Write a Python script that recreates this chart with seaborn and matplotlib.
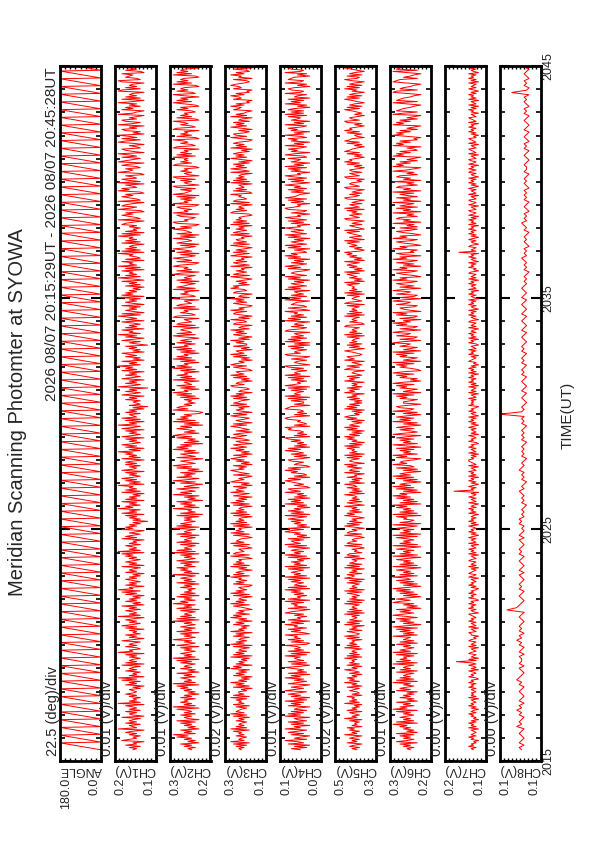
import numpy as np
import pandas as pd
import matplotlib
matplotlib.use("Agg")
import matplotlib.pyplot as plt
import seaborn as sns

sns.set_theme(style="white")
plt.rcParams['font.family'] = ['Liberation Sans', 'DejaVu Sans']

TITLE = "Meridian Scanning Photomter at SYOWA"
PERIOD = "2026 08/07 20:15:29UT - 2026 08/07 20:45:28UT"
TIME_TICKS = [0, 10, 20, 30]          # minutes after 20:15 UT
TIME_LABELS = ["2015", "2025", "2035", "2045"]

# scan angle turning points (seconds after 20:15:00)
ANGLE_LOW_S = [29, 49, 69, 89, 109, 129, 149, 169, 189, 209, 229, 249, 269, 289, 309,
               329, 349, 369, 389, 409, 429, 449, 469, 489, 509, 529, 549, 569, 589, 609,
               629, 649, 669, 689, 709, 729, 749, 769, 789, 809, 829, 849, 869, 889, 909,
               929, 949, 969, 989, 1009, 1029, 1049, 1069, 1089, 1109, 1129, 1149, 1169,
               1189, 1209, 1229, 1249, 1269, 1289, 1309, 1329, 1349, 1369, 1389, 1409,
               1429, 1449, 1469, 1489, 1509, 1529, 1549, 1569, 1589, 1609, 1629, 1649,
               1669, 1689, 1709, 1729, 1749, 1769, 1789, 1809]
ANGLE_HIGH_S = [47, 67, 87, 107, 127, 147, 167, 187, 207, 227, 247, 267, 287, 307, 327,
                347, 367, 387, 407, 427, 447, 467, 487, 507, 527, 547, 567, 587, 607, 627,
                647, 667, 687, 707, 727, 747, 767, 787, 807, 827, 847, 867, 887, 907, 927,
                947, 967, 987, 1007, 1027, 1047, 1067, 1087, 1107, 1127, 1147, 1167, 1187,
                1207, 1227, 1247, 1267, 1287, 1307, 1327, 1347, 1367, 1387, 1407, 1427,
                1447, 1467, 1487, 1507, 1527, 1547, 1567, 1587, 1607, 1627, 1647, 1667,
                1687, 1707, 1727, 1747, 1767, 1787, 1807, 1827]

# photometer channels, read as levels (base-36 digit) -> value = base + step * level
CH1 = ("54637452864536475294563746538256473645729364536475"
       "45635274638492645374653827465364729563474653852647"
       "35462748536475293645736482537463527483956274635746"
       "35274653826475364758293645736452847536428574635153"
       "64728463957364827463528374659263748536472854637475"
       "28364759362748536472853647285394627384563746251634"
       "53746285374619537462853746284759364825374682536471"
       "46385274936582746358274693825746382574639285746352"
       "73648259374658273946582734659283746528374659382745"
       "36487529346857239648752934685723968457293684572396"
       "57348629753846925783462597384692537846295378464295"
       "42857364952837465298374652893476582374695823746582")
CH2 = ("45364725364859364725364738256473645829364756374625"
       "36475829364573648253746537482936475364728536495364"
       "72846375364928374653728463957364827364537462836475"
       "39264758364728536472938465372846537284653928475364"
       "62817354926374815362947358264173952846371528496357"
       "41835726395847162538497263584716293857462139587463"
       "54627384956273845629374856273948562739485627384956"
       "38475269384576293874562983475629387456298347562938"
       "65372846539728465973284695372846953728645937284569"
       "47328956437829564783295647382965473892564738925647"
       "56239847565938475629834756923847562983475692384756"
       "34857236948572693485762394857623948576239485726934")
CH3 = ("56473829465374658293746537462839476537284657392846"
       "63518274936251847362958174635291847365281947365284"
       "71946352847163958274613582947365182947356218473659"
       "28475163928475613928745613829476513829475618293746"
       "51829374651829473618529476381529746318257946381527"
       "49638152749368157249638517246938157426938157462938"
       "65283947165238947615283946712583974615283946715283"
       "37492615837492651873492615873946215837492651873496"
       "82637415928637451926837451962837415928367451928637"
       "46192837564129837465192873465912837456192837465192"
       "59374826159374862519374862159378426159374826519374"
       "31865947231856947231856974238165947238156947231865")
CH4 = ("47261835926417385294617382561948372651847392617485"
       "29637418526394718253694172835649271836459217384659"
       "13748265937184526397418265739184526374918265374819"
       "26475381926473518294637518294673815264973815264738"
       "52917384615293748162539478126357948162375948126537"
       "84162735948162537489162534879162354897162534987163"
       "37281946537281964527381946527389146527318946527381"
       "61948273561984273651948273659148237651948273561948"
       "25736184925763184952736184957236184925736184925736"
       "94517382694517328964517382965417382649517382694517"
       "48293617548239617584293617582493617584293617548293"
       "73861529473816529437861529438761529437861529473861")
CH5 = ("46375284637529463758264537294635728463529374658263"
       "47538264937584627359462837564928374652938475628394"
       "35827461938275463918274653928174635829174653827196"
       "58274619382754619387254613928746513928746159382746"
       "14958273649158273645917263845917362845193762849157"
       "63829174658392716485937261849375261849735261948372"
       "52738461957382646195738246519738246195783246951738"
       "27465381927465398127465391827465381972465381927465"
       "68391527468391527486391527486931527468391572468391"
       "35726418935726481935726418953726418935762418935726"
       "74152839674152839764152839761452839674152893674152"
       "46938275146938275164938275169438275146938257146938")
CH6 = ("45364728536473825364759283647536482957364825374635"
       "28475364928374653827465392847563829475364827365492"
       "63748295163748259637481526397485162738495162738459"
       "27364851927364851927463851927463582917463852917436"
       "58192736485917263849571628394751628394751628349576"
       "31859264738159264738519624738516294738516294378516"
       "64275839164275839614275839612475839164275839164275"
       "49617328549617328594617328591467328549617328549617"
       "36842957136842957163842957168342957136842957136842"
       "72539164872539164827539164825739164872539164872539"
       "53196847253196847235196847231596847253196847253196"
       "28764315928764315982764315987264315928764315928764")
CH7 = ("45364534254635434526354635243546354253645345263545"
       "34536453645236453462534635b36254365345263543653425"
       "56345263453645345624536453645236453645325364534526"
       "43654352635436534526354634526345364253645346253645"
       "35426354635426345364352c45364253645263546345263456"
       "64535263453645236453462534536425364536245364532645"
       "45363452635436253645364526354635243654352645363452"
       "36452635463542635436524536453624536453624536452634"
       "53645263543652436453624536452a35436524536425364536"
       "45263546352643563452643563452634536425364536245365"
       "36452643563452634563452634563425364536452634563452"
       "54635263452635463524635436253645362453645236453624")
CH8 = ("67576567658676576867576567657687656757667576576867"
       "5767656765c876567657676567576567657676567576565767"
       "56565465656756546565765654656565465656546565f65654"
       "56546545654656546565465654565465456546545654654565"
       "45454354545645453454543545645453454354545345454354"
       "45434543545345435434543545345453a4354534543545345")

CH_LEVELS = [CH1, CH2, CH3, CH4, CH5, CH6, CH7, CH8]
CH_BASE = [0.110, 0.210, 0.155, 0.020, 0.345, 0.215, 0.105, 0.105]
CH_STEP = [0.009, 0.009, 0.013, 0.0075, 0.012, 0.0085, 0.006, 0.003]

NAMES = ["ANGLE", "CH1(V)", "CH2(V)", "CH3(V)", "CH4(V)", "CH5(V)", "CH6(V)", "CH7(V)", "CH8(V)"]
DIV_LABELS = ["22.5 (deg)/div", "0.01 (V)/div", "0.01 (V)/div", "0.02 (V)/div", "0.01 (V)/div",
              "0.02 (V)/div", "0.01 (V)/div", "0.00 (V)/div", "0.00 (V)/div"]
RANGE_HI = [180.0, 0.2, 0.3, 0.3, 0.1, 0.5, 0.3, 0.2, 0.15]
RANGE_LO = [0.0, 0.1, 0.2, 0.1, 0.0, 0.3, 0.2, 0.1, 0.10]
HI_LABELS = ["180.0", "0.2", "0.3", "0.3", "0.1", "0.5", "0.3", "0.2", "0.1"]
LO_LABELS = ["0.0", "0.1", "0.2", "0.1", "0.0", "0.3", "0.2", "0.1", "0.1"]
N_DIV = [8, 10, 10, 10, 10, 10, 10, 10, 10]

# build the series
angle = pd.concat([pd.DataFrame({"sec": ANGLE_LOW_S, "val": 0.0}),
                   pd.DataFrame({"sec": ANGLE_HIGH_S, "val": 180.0})]).sort_values("sec")
series = [(angle["val"].values, angle["sec"].values / 60.0)]
for lev, b, s in zip(CH_LEVELS, CH_BASE, CH_STEP):
    v = b + s * np.array([int(c, 36) for c in lev])
    t = np.linspace(29, 1828, len(v)) / 60.0
    series.append((v, t))

W, H = 595, 842
fig = plt.figure(figsize=(W / 100, H / 100), dpi=100)
fx = lambda px: px / W
fy = lambda py: 1 - py / H

lefts = [60, 114.5, 169.5, 225, 280, 335, 389.5, 444.5, 499.5]
pw = 41
top, bot = 66, 761

for i, (vals, t) in enumerate(series):
    ax = fig.add_axes([fx(lefts[i]), fy(bot), pw / W, (bot - top) / H])
    sns.lineplot(x=vals, y=t, orient="y", estimator=None, ax=ax,
                 color="red", lw=0.7)
    ax.set_xlim(RANGE_HI[i], RANGE_LO[i])
    ax.set_ylim(0, 30)
    ax.set_xlabel("")
    ax.set_ylabel("")
    ax.set_xticks(np.linspace(RANGE_LO[i], RANGE_HI[i], N_DIV[i] + 1)[1:-1])
    ax.set_xticklabels([])
    ax.set_yticks(TIME_TICKS)
    ax.set_yticks(np.arange(0, 31, 1), minor=True)
    ax.tick_params(axis="x", which="both", direction="in", top=True, bottom=True,
                   length=2.5, width=1, color="black")
    ax.tick_params(axis="y", which="major", direction="in", left=True, right=True,
                   length=7, width=1.5, color="black")
    ax.tick_params(axis="y", which="minor", direction="in", left=True, right=True,
                   length=3.5, width=1.2, color="black")
    if i == len(series) - 1:
        ax.set_yticklabels(TIME_LABELS, rotation=90, va="center", fontsize=9)
        ax.tick_params(axis="y", labelleft=False, labelright=True, pad=1)
    else:
        ax.set_yticklabels([])
    for sp in ax.spines.values():
        sp.set_linewidth(2)
        sp.set_color("black")

    cx = lefts[i] + pw / 2
    fig.text(fx(lefts[i] - 7.5), fy(756), DIV_LABELS[i], rotation=90,
             ha="center", va="bottom", fontsize=10.5)
    fig.text(fx(cx), fy(770), NAMES[i], rotation=180, ha="center", va="center", fontsize=9)
    fig.text(fx(lefts[i]), fy(778), HI_LABELS[i], rotation=90, ha="left", va="top", fontsize=9)
    fig.text(fx(lefts[i] + pw), fy(778), LO_LABELS[i], rotation=90, ha="right", va="top", fontsize=9)

fig.text(fx(18), fy(412), TITLE, rotation=90, ha="center", va="center", fontsize=14.5)
fig.text(fx(52), fy(67), PERIOD, rotation=90, ha="center", va="top", fontsize=11)
fig.text(fx(568), fy(415), "TIME(UT)", rotation=90, ha="center", va="center", fontsize=11)

fig.savefig("out.png", dpi=100)
